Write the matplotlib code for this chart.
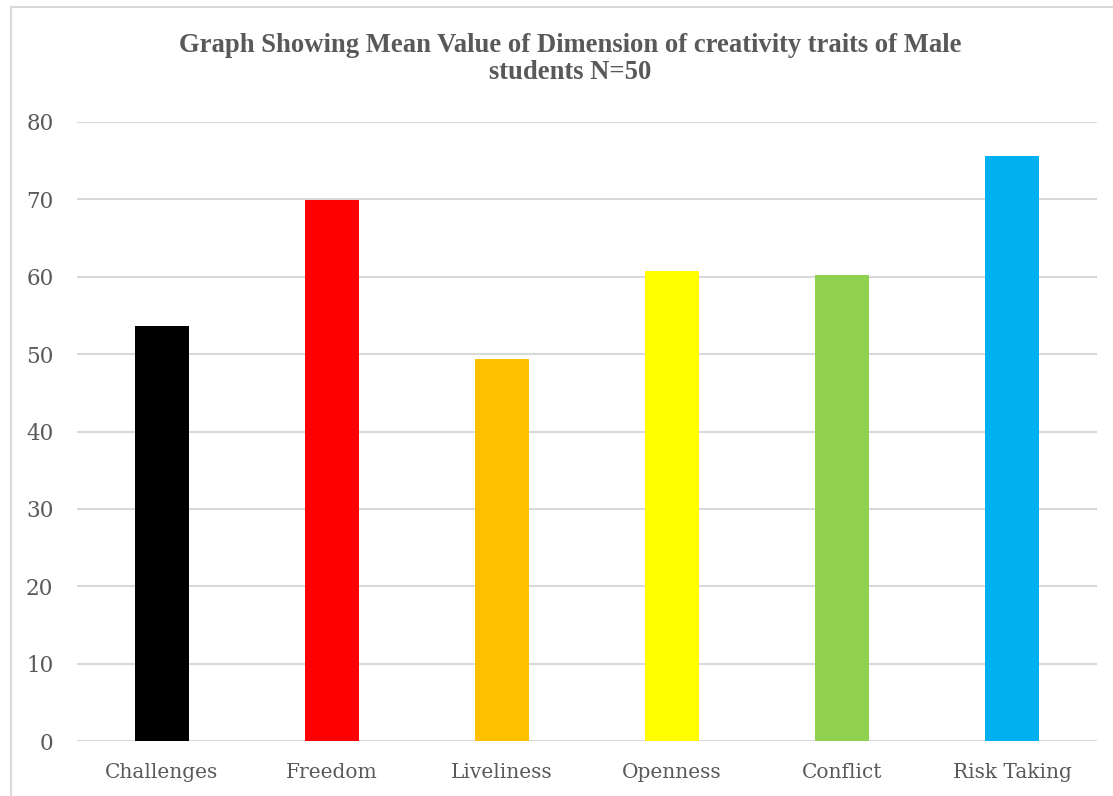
import matplotlib.pyplot as plt
from matplotlib.patches import Rectangle

categories = ["Challenges", "Freedom", "Liveliness", "Openness", "Conflict", "Risk Taking"]
means = [53.6, 69.9, 49.4, 60.7, 60.2, 75.6]
colors = ["#000000", "#ff0000", "#ffc000", "#ffff00", "#92d050", "#00b0f0"]
yticks = [0, 10, 20, 30, 40, 50, 60, 70, 80]

W, H = 1113, 796
fig = plt.figure(figsize=(W / 100, H / 100), dpi=100)
ax = fig.add_axes([77/W, 1 - 741/H, (1097-77)/W, (741-122)/H])

ax.bar(range(len(categories)), means, width=0.32, color=colors, zorder=3)
ax.set_xlim(-0.5, len(categories) - 0.5)
ax.set_ylim(0, 80)
ax.set_yticks(yticks)
ax.set_xticks(range(len(categories)))
ax.set_xticklabels(categories)

for s in ["top", "right", "left", "bottom"]:
    ax.spines[s].set_visible(False)
ax.grid(axis="y", color="#d9d9d9", linewidth=1.5, zorder=0)
ax.tick_params(length=0, labelsize=14.5, labelcolor="#595959")
ax.tick_params(axis="y", pad=17, labelsize=15.5)
ax.tick_params(axis="x", pad=16)
for lab in ax.get_xticklabels() + ax.get_yticklabels():
    lab.set_family("DejaVu Serif")

# chart title, two lines
fig.text(0.512, 1 - 59/H, "Graph Showing Mean Value of Dimension of creativity traits of Male\nstudents N=50",
         ha="center", va="center", fontsize=19.2, fontweight="bold", color="#595959",
         family="Liberation Serif", linespacing=1.12)

# light frame around the chart area
fig.patches.append(Rectangle((11/W, -0.1), 1.2, 1 - 7/H + 0.1, transform=fig.transFigure,
                             fill=False, edgecolor="#d9d9d9", linewidth=1.5))

fig.savefig("out.png", dpi=100)
